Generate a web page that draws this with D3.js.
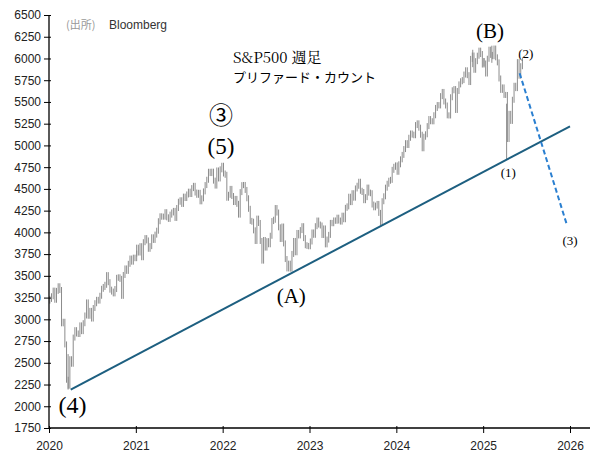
<!DOCTYPE html>
<html><head><meta charset="utf-8">
<script src="https://cdn.jsdelivr.net/npm/d3@7"></script>
<style>body{margin:0;background:#fff}</style></head>
<body><svg id="c" width="604" height="472"></svg>
<script>
const startYear = 2020;
const closes2020 = [3235,3265,3330,3225,3327,3380,3337,2954,2972,2711,2305,2237,2541,2489,2790,2875,2837,2831,2930,2864,2955,3044,3194,3041,3097,3009,3130,3185,3224,3215,3271,3351,3372,3397,3508,3427,3341,3319,3298,3348,3477,3483,3465,3270,3510,3585,3557,3638,3699,3663,3709,3703,3756];
const closes2021 = [3824,3768,3841,3714,3887,3934,3907,3811,3842,3943,3913,3974,4019,4128,4185,4180,4181,4232,4173,4155,4204,4229,4247,4166,4280,4352,4369,4327,4411,4395,4436,4468,4441,4509,4535,4458,4432,4455,4357,4391,4471,4544,4605,4697,4682,4698,4595,4538,4712,4620,4725,4766];
const closes2022 = [4677,4662,4398,4432,4500,4418,4349,4385,4328,4204,4463,4543,4545,4488,4392,4271,4132,4123,4023,3901,4158,4108,3901,3675,3912,3825,3899,3863,3961,4130,4145,4280,4228,4058,3924,4067,3873,3693,3585,3640,3583,3752,3901,3771,3993,3965,4026,4071,3934,3852,3844,3840];
const closes2023 = [3895,3999,3972,4071,4136,4090,4079,3970,4045,3862,3917,3971,4109,4105,4137,4133,4169,4136,4124,4192,4151,4282,4299,4410,4348,4450,4399,4505,4536,4582,4478,4464,4370,4405,4515,4457,4450,4320,4288,4308,4327,4224,4117,4358,4415,4514,4559,4594,4604,4719,4754,4770];
const closes2024 = [4697,4783,4840,4891,4958,5026,5005,5088,5137,5124,5117,5234,5254,5204,5123,4967,5100,5128,5222,5303,5278,5277,5347,5431,5464,5460,5567,5615,5505,5459,5346,5344,5554,5634,5648,5408,5626,5702,5738,5751,5815,5864,5808,5729,5995,6034,5870,5969,6032,6090,6051,5930,5970];
const closes2025 = [5942,5827,5997,6101,6041,6026,6114,6013,5955,5770,5639,5667,5581,5580,5074,5363,5282,5525,5686,5659,5958,5802,5911,5977];
const wicks = [{t:2020.22,low:2192,high:2600},{t:2025.27,low:4835,high:5480},{t:2024.88,low:5900,high:6100},{t:2025.1,low:5950,high:6147}];
const yTicks = [1750,2000,2250,2500,2750,3000,3250,3500,3750,4000,4250,4500,4750,5000,5250,5500,5750,6000,6250,6500];
const xTicks = [2020,2021,2022,2023,2024,2025,2026];
const trend = [{t:2020.25,v:2192},{t:2026.0,v:5220}];
const forecast = [{t:2025.42,v:5830},{t:2025.96,v:4100}];
const labels = [
 {t:2021.98,v:5250,s:"③",size:24,f:"Noto Sans CJK JP"},{t:2021.98,v:4900,s:"(5)",size:23},
 {t:2020.27,v:1920,s:"(4)",size:24},{t:2022.79,v:3190,s:"(A)",size:21},
 {t:2025.08,v:6230,s:"(B)",size:21},{t:2025.49,v:6010,s:"(2)",size:13},
 {t:2025.29,v:4640,s:"(1)",size:13},{t:2026.0,v:3860,s:"(3)",size:13}];

const allCloses=[closes2020,closes2021,closes2022,closes2023,closes2024,closes2025];
const svg=d3.select("#c");
const x=d3.scaleLinear().domain([2020,2026]).range([49,570]);
const y=d3.scaleLinear().domain([1750,6500]).range([428,15]);
const pts=[];
allCloses.forEach((arr,i)=>arr.forEach((c,j)=>pts.push({t:startYear+i+(j+0.5)/52,c})));
const g=svg.append("g").attr("stroke","#8c8c8c").attr("stroke-width",1);
pts.forEach((p,i)=>{const prev=i?pts[i-1].c:p.c-20;
 g.append("line").attr("x1",x(p.t)).attr("x2",x(p.t)).attr("y1",y(Math.min(prev,p.c))+3).attr("y2",y(Math.max(prev,p.c))-3);});
wicks.forEach(w=>g.append("line").attr("x1",x(w.t)).attr("x2",x(w.t)).attr("y1",y(w.low)).attr("y2",y(w.high)));
const ya=svg.append("g").attr("transform","translate(49,0)").call(d3.axisLeft(y).tickValues(yTicks).tickSize(5).tickFormat(d3.format("d")));
ya.selectAll(".tick line").attr("x2",2).attr("x1",-5);
const xa=svg.append("g").attr("transform","translate(0,428)").call(d3.axisBottom(x).tickValues(xTicks).tickSize(5).tickFormat(d3.format("d")));
xa.selectAll(".tick line").attr("y1",-2);
[ya,xa].forEach(a=>{a.select(".domain").attr("stroke","#000").attr("stroke-width",1.3);a.selectAll("text").attr("font-family","Liberation Sans, Arial").attr("font-size",12).attr("fill","#222");});
xa.selectAll("text").attr("dy","1.2em");
ya.select(".domain").attr("d","M0,428V15");xa.select(".domain").attr("d","M49,0H590");
const ln=d3.line().x(d=>x(d.t)).y(d=>y(d.v));
svg.append("path").attr("d",ln(trend)).attr("stroke","#1d5f80").attr("stroke-width",2).attr("fill","none");
svg.append("path").attr("d",ln(forecast)).attr("stroke","#2a7fd0").attr("stroke-width",2).attr("stroke-dasharray","5,3").attr("fill","none");
labels.forEach(l=>svg.append("text").attr("x",x(l.t)).attr("y",y(l.v)).attr("text-anchor","middle").attr("font-family",l.f||"Liberation Serif, serif").attr("font-size",l.size).text(l.s));
svg.append("text").attr("x",66).attr("y",29).attr("font-family","Noto Sans CJK JP").attr("font-size",11).attr("fill","#999").text("(出所)");
svg.append("text").attr("x",109).attr("y",29).attr("font-family","Liberation Sans").attr("font-size",12).attr("fill","#333").text("Bloomberg");
svg.append("text").attr("x",233).attr("y",63).attr("font-family","Noto Serif CJK JP, Liberation Serif, serif").attr("font-size",15).text("S&P500 週足");
svg.append("text").attr("x",233).attr("y",82).attr("font-family","Noto Sans CJK JP").attr("font-size",13).text("プリファード・カウント");
</script></body></html>
